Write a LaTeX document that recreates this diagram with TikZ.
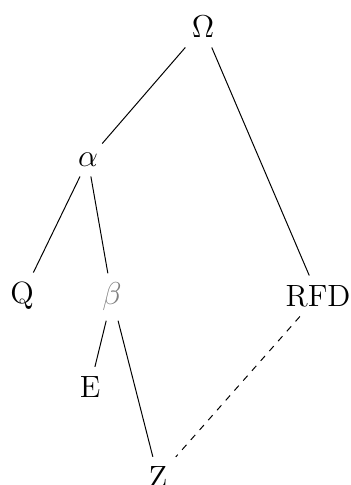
\documentclass[tikz,border=0pt]{standalone}
\usepackage{tikz}
\usetikzlibrary{positioning}

\begin{document}
\begin{tikzpicture}[
  x=0.016cm, y=-0.016cm,
  font=\fontsize{14}{17}\selectfont,
  tnode/.style={inner sep=4.2pt},
  faded/.style={tnode, text=black!50},
  link/.style={line width=0.45pt},
  weak/.style={link, dashed}
]
\useasboundingbox (0,0) rectangle (351,485);

\node[tnode] (omega) at (203,27)  {$\Omega$};
\node[tnode] (alpha) at (88,160)  {$\alpha$};
\node[tnode] (q)     at (22,296)  {Q};
\node[faded] (beta)  at (112,297) {$\beta$};
\node[tnode] (rfd)   at (318,296) {RFD};
\node[tnode] (e)     at (90,387)  {E};
\node[tnode] (z)     at (158,477) {Z};

\draw[link] (omega) -- (alpha);
\draw[link] (omega) -- (rfd);
\draw[link] (alpha) -- (q);
\draw[link] (alpha) -- (beta);
\draw[link] (beta) -- (e);
\draw[link] (beta) -- (z);
\draw[weak] (rfd) -- (z);

\end{tikzpicture}
\end{document}
